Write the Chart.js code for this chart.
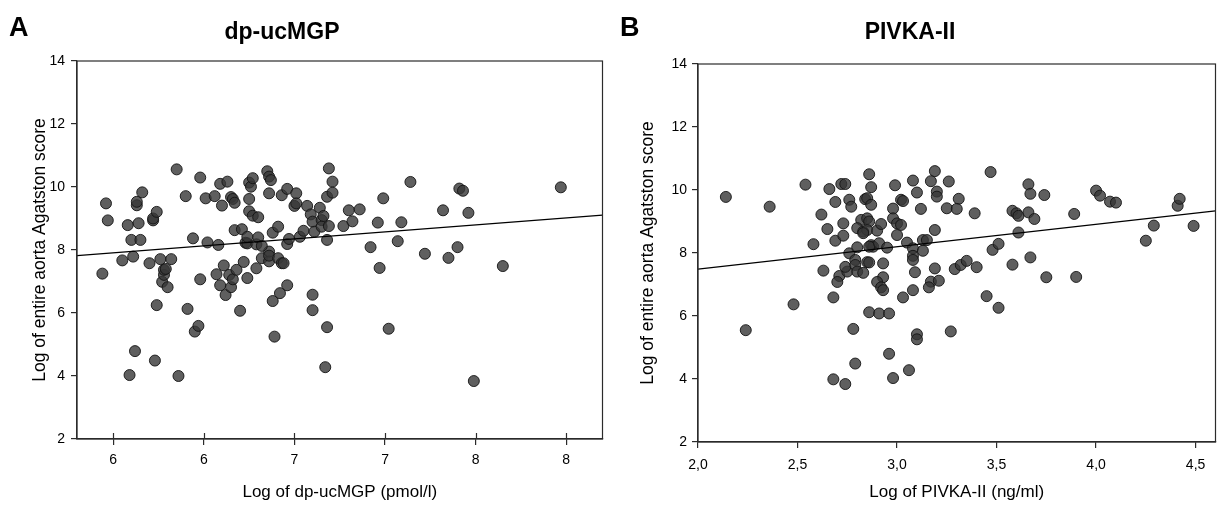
<!DOCTYPE html>
<html>
<head>
<meta charset="utf-8">
<script src="https://cdn.jsdelivr.net/npm/chart.js@4.4.1/dist/chart.umd.min.js"></script>
<style>
    body { margin: 0; background: #fff; }
    #page { position: relative; width: 1218px; height: 509px; overflow: hidden; font-family: 'Liberation Sans', Arial, sans-serif; }
    canvas { position: absolute; top: 0; }
    #chartA { left: 0; }
    #chartB { left: 609px; }
    .letter { position: absolute; font-weight: bold; font-size: 27px; color: #000; }
    .title { position: absolute; font-weight: bold; font-size: 23px; color: #000; transform: translateX(-50%); white-space: nowrap; }
</style>
</head>
<body>
<div id="page">
    <canvas id="chartA" width="609" height="509"></canvas>
    <canvas id="chartB" width="613" height="509"></canvas>
    <div class="letter" style="left:9px;top:12px">A</div>
    <div class="title" style="left:282px;top:18px">dp-ucMGP</div>
    <div class="letter" style="left:620px;top:12px">B</div>
    <div class="title" style="left:910px;top:18px">PIVKA-II</div>
</div>
<script>
// Panel A: dp-ucMGP
const DP_X = [5.44, 5.46, 5.47, 5.55, 5.58, 5.59, 5.60, 5.61, 5.62, 5.63, 5.63, 5.64, 5.65, 5.66, 5.70,
    5.72, 5.72, 5.73, 5.74, 5.74, 5.76, 5.77, 5.78, 5.78, 5.79, 5.80, 5.82, 5.85, 5.86, 5.90,
    5.91, 5.94, 5.95, 5.97, 5.98, 5.98, 6.01, 6.02, 6.06, 6.07, 6.08, 6.09, 6.09, 6.10, 6.11,
    6.12, 6.13, 6.14, 6.15, 6.15, 6.16, 6.16, 6.17, 6.17, 6.18, 6.20, 6.21, 6.22, 6.23, 6.24,
    6.24, 6.24, 6.25, 6.25, 6.25, 6.26, 6.27, 6.27, 6.29, 6.29, 6.30, 6.30, 6.32, 6.35, 6.36,
    6.36, 6.37, 6.36, 6.36, 6.36, 6.38, 6.38, 6.39, 6.41, 6.41, 6.42, 6.43, 6.43, 6.44, 6.46,
    6.46, 6.46, 6.47, 6.50, 6.51, 6.51, 6.53, 6.55, 6.57, 6.59, 6.60, 6.60, 6.60, 6.61, 6.64,
    6.65, 6.66, 6.67, 6.68, 6.68, 6.69, 6.68, 6.65, 6.69, 6.71, 6.71, 6.77, 6.80, 6.82, 6.86,
    6.92, 6.96, 6.97, 6.99, 7.02, 7.07, 7.09, 7.14, 7.22, 7.32, 7.35, 7.40, 7.41, 7.43, 7.46,
    7.49, 7.65, 7.97, 6.32];
const DP_Y = [7.25, 9.48, 8.94, 7.67, 8.79, 4.03, 8.32, 7.79, 4.79, 9.42, 9.53, 8.85, 8.32, 9.83, 7.58,
    8.94, 9.00, 4.49, 6.25, 9.21, 7.71, 6.99, 7.21, 7.37, 7.40, 6.82, 7.71, 10.56, 4.00, 9.71,
    6.13, 8.37, 5.41, 5.59, 10.30, 7.07, 9.64, 8.24, 9.71, 7.23, 8.16, 10.10, 6.88, 9.41, 7.51,
    6.57, 10.17, 7.21, 6.82, 9.68, 9.62, 7.07, 9.50, 8.63, 7.37, 6.07, 8.66, 7.62, 8.23, 7.11,
    8.21, 8.42, 9.62, 9.23, 10.14, 10.01, 9.09, 10.28, 7.42, 8.18, 8.40, 9.04, 7.74, 10.50, 9.80,
    10.33, 10.22, 7.64, 7.95, 7.82, 6.38, 8.55, 5.25, 8.74, 7.74, 6.63, 7.58, 9.74, 7.58, 9.94,
    8.19, 6.88, 8.35, 9.40, 9.80, 9.48, 8.42, 8.61, 9.40, 9.13, 8.90, 6.58, 6.09, 8.58, 9.34,
    8.95, 9.08, 4.28, 9.69, 5.55, 10.59, 8.32, 8.74, 8.76, 10.17, 9.82, 8.76, 9.26, 8.91, 9.29,
    8.09, 8.87, 7.43, 9.64, 5.50, 8.28, 8.88, 10.16, 7.88, 9.26, 7.75, 8.09, 9.95, 9.88, 9.18,
    3.84, 7.49, 9.99, 8.13];
// fitted line, end points read at the frame edges
const DP_FIT_X = [5.3, 8.2];
const DP_FIT_Y = [7.82, 9.11];
const DP_XTICKS = [5.5, 6.0, 6.5, 7.0, 7.5, 8.0];
const DP_XLABELS = ['6', '6', '7', '7', '8', '8'];

// Panel B: PIVKA-II
const PV_X = [2.14, 2.24, 2.36, 2.48, 2.54, 2.62, 2.58, 2.65, 2.66, 2.69, 2.69, 2.63, 2.68, 2.71, 2.70,
    2.72, 2.74, 2.73, 2.73, 2.76, 2.77, 2.76, 2.75, 2.74, 2.78, 2.80, 2.79, 2.79, 2.80, 2.79,
    2.68, 2.74, 2.86, 2.87, 2.84, 2.85, 2.87, 2.82, 2.85, 2.86, 2.80, 2.83, 2.85, 2.83, 2.90,
    2.92, 2.87, 2.88, 2.86, 2.91, 2.95, 2.85, 2.86, 2.83, 2.93, 2.93, 2.90, 2.92, 2.93, 2.86,
    2.91, 2.96, 2.96, 2.98, 2.99, 2.98, 2.98, 3.00, 3.02, 3.03, 3.02, 3.00, 3.05, 3.03, 3.06,
    3.19, 3.08, 3.17, 3.26, 3.47, 3.10, 3.20, 3.20, 3.31, 3.12, 3.25, 3.30, 3.39, 3.19, 3.13,
    3.15, 3.08, 3.13, 3.08, 3.08, 3.09, 3.19, 3.29, 3.32, 3.35, 3.40, 3.17, 3.16, 3.21, 3.08,
    3.45, 3.51, 3.10, 3.10, 3.27, 3.48, 3.51, 3.58, 3.60, 3.61, 3.66, 3.69, 3.61, 3.66, 3.67,
    3.74, 3.58, 3.67, 3.75, 3.89, 3.90, 4.00, 4.02, 4.07, 4.10, 4.25, 4.29, 4.41, 4.42, 4.49];
const PV_Y = [9.78, 5.55, 9.47, 6.37, 10.17, 9.22, 8.28, 8.76, 10.03, 9.62, 8.39, 7.44, 6.59, 7.27, 7.08,
    10.19, 10.19, 8.94, 8.55, 9.69, 9.47, 7.99, 7.41, 7.56, 5.59, 8.18, 7.78, 7.62, 7.41, 4.49,
    3.99, 3.84, 10.50, 10.09, 9.71, 9.74, 9.53, 9.05, 9.10, 9.00, 8.79, 8.68, 8.73, 8.63, 8.71,
    8.92, 8.25, 8.20, 8.20, 8.31, 8.17, 7.71, 7.70, 7.37, 7.67, 7.23, 7.08, 6.91, 6.82, 6.12,
    6.08, 6.08, 4.80, 4.03, 10.15, 9.41, 9.10, 8.94, 9.69, 9.65, 8.89, 8.57, 8.33, 6.59, 4.28,
    10.60, 10.30, 10.28, 10.27, 10.57, 9.92, 9.95, 9.79, 9.72, 9.40, 9.42, 9.40, 9.26, 8.73, 8.41,
    8.41, 8.15, 8.07, 7.91, 7.78, 7.39, 7.51, 7.49, 7.62, 7.75, 7.55, 7.09, 6.91, 7.12, 6.82,
    6.63, 6.26, 5.42, 5.26, 5.51, 8.10, 8.29, 9.34, 9.26, 9.18, 9.29, 9.08, 8.65, 10.18, 9.88,
    9.84, 7.63, 7.86, 7.23, 9.24, 7.24, 9.98, 9.82, 9.63, 9.60, 8.39, 8.87, 9.50, 9.72, 8.86];
const PV_FIT_X = [2.0, 4.6];
const PV_FIT_Y = [7.49, 9.34];
const PV_XTICKS = [2.0, 2.5, 3.0, 3.5, 4.0, 4.5];
const PV_XLABELS = ['2,0', '2,5', '3,0', '3,5', '4,0', '4,5'];

const Y_TITLE = 'Log of entire aorta Agatston score';
const AXIS = '#2b2b2b';

Chart.defaults.font.family = "'Liberation Sans', Arial, sans-serif";
Chart.defaults.color = '#000';

// box round the plot area, plus inward x ticks when asked
const framePlugin = {
    id: 'frame',
    afterDraw(chart, args, opts) {
        const { ctx, chartArea: a } = chart;
        ctx.save();
        ctx.strokeStyle = AXIS;
        ctx.lineWidth = 1.2;
        ctx.strokeRect(a.left, a.top, a.right - a.left, a.bottom - a.top);
        if (opts.innerTicks) {
            const xs = chart.scales.x;
            ctx.beginPath();
            xs.ticks.forEach(t => {
                const px = Math.round(xs.getPixelForValue(t.value)) + 0.5;
                ctx.moveTo(px, a.bottom);
                ctx.lineTo(px, a.bottom - opts.innerTicks);
            });
            ctx.stroke();
        }
        ctx.restore();
    }
};

function pairs(xs, ys) {
    return xs.map((x, i) => ({ x, y: ys[i] }));
}

function makePanel(id, cfg) {
    const ctx = document.getElementById(id).getContext('2d');
    return new Chart(ctx, {
        data: {
            datasets: [{
                type: 'line',
                data: pairs(cfg.fitX, cfg.fitY),
                borderColor: '#000',
                borderWidth: 1.2,
                pointRadius: 0,
                fill: false,
                order: 0,
            }, {
                type: 'scatter',
                data: pairs(cfg.x, cfg.y),
                backgroundColor: 'rgba(55, 55, 55, 0.8)',
                borderColor: 'rgba(20, 20, 20, 0.9)',
                borderWidth: 1,
                pointRadius: 5.5,
                order: 1,
            }]
        },
        options: {
            responsive: false,
            animation: false,
            layout: { padding: cfg.padding },
            plugins: {
                legend: { display: false },
                tooltip: { enabled: false },
                frame: { innerTicks: cfg.innerTicks },
            },
            scales: {
                x: {
                    type: 'linear',
                    min: cfg.xMin,
                    max: cfg.xMax,
                    afterBuildTicks: s => { s.ticks = cfg.xTicks.map(v => ({ value: v })); },
                    afterFit: s => { s.height = cfg.xAxisHeight; },
                    ticks: {
                        callback: (v, i) => cfg.xLabels[i],
                        font: { size: 14 },
                        padding: cfg.xPad,
                        maxRotation: 0,
                        autoSkip: false,
                    },
                    grid: { drawOnChartArea: false, tickLength: cfg.xTickLen, color: AXIS, lineWidth: 1.2 },
                    border: { color: AXIS, width: 1.2 },
                    title: { display: true, text: cfg.xTitle, font: { size: 17 }, padding: { top: 0, bottom: 6 } },
                },
                y: {
                    min: 2,
                    max: 14,
                    afterFit: s => { s.width = cfg.yAxisWidth; },
                    ticks: { stepSize: 2, font: { size: 14 }, padding: cfg.yPad },
                    grid: { drawOnChartArea: false, tickLength: 6, color: AXIS, lineWidth: 1.2 },
                    border: { color: AXIS, width: 1.2 },
                    title: { display: true, text: Y_TITLE, font: { size: 17.5 }, padding: { top: cfg.yTitlePad, bottom: 0 } },
                }
            }
        },
        plugins: [framePlugin]
    });
}

makePanel('chartA', {
    x: DP_X, y: DP_Y, fitX: DP_FIT_X, fitY: DP_FIT_Y,
    xMin: 5.3, xMax: 8.2, xTicks: DP_XTICKS, xLabels: DP_XLABELS,
    xTitle: 'Log of dp-ucMGP (pmol/l)',
    padding: { top: 61, right: 6, bottom: 0, left: 0 },
    xAxisHeight: 70, yAxisWidth: 77,
    xPad: 7, xTickLen: 6, yPad: 6, yTitlePad: 30, innerTicks: 6,
});

makePanel('chartB', {
    x: PV_X, y: PV_Y, fitX: PV_FIT_X, fitY: PV_FIT_Y,
    xMin: 2.0, xMax: 4.6, xTicks: PV_XTICKS, xLabels: PV_XLABELS,
    xTitle: 'Log of PIVKA-II (ng/ml)',
    padding: { top: 64, right: 1, bottom: 0, left: 0 },
    xAxisHeight: 67, yAxisWidth: 89,
    xPad: 9, xTickLen: 6, yPad: 5, yTitlePad: 29, innerTicks: 0,
});
</script>
</body>
</html>
